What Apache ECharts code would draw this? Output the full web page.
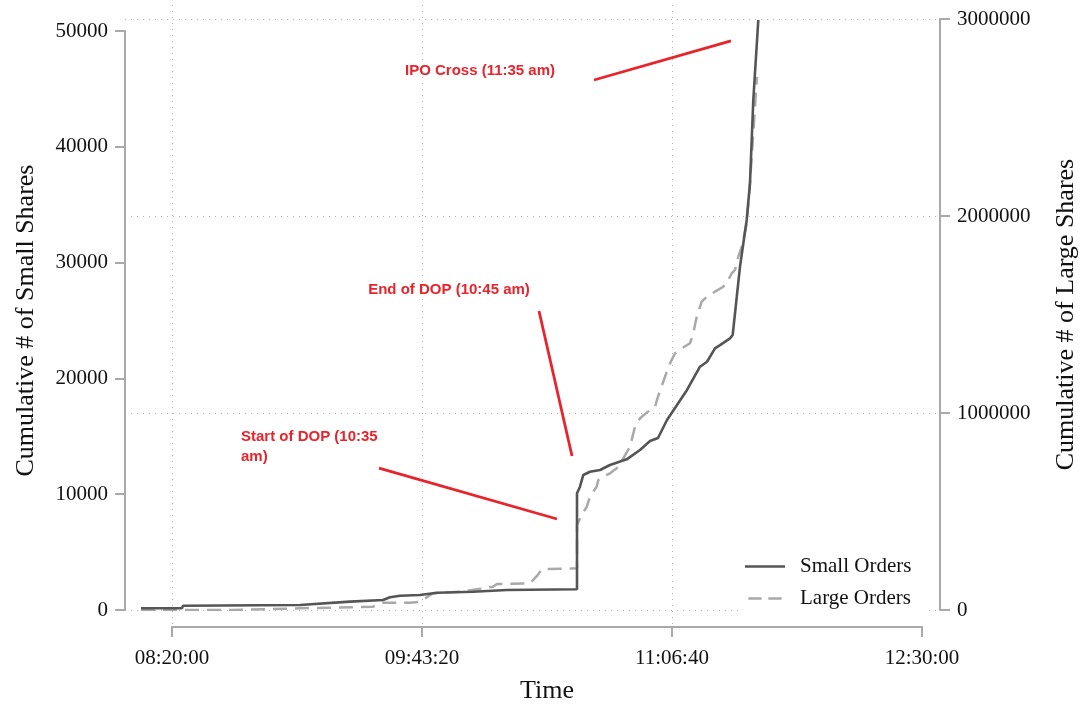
<!DOCTYPE html>
<html>
<head>
<meta charset="utf-8">
<title>Cumulative Small and Large Shares</title>
<script src="https://cdn.jsdelivr.net/npm/echarts@6/dist/echarts.min.js"></script>
<style>
  html, body { margin: 0; padding: 0; background: #fff; }
  #chart { width: 1082px; height: 705px; }
</style>
</head>
<body>
<div id="chart"></div>
<script>
// Time is in seconds after midnight.
const smallTime = [29380, 30200, 30220, 32560, 33560, 34220, 34360, 34560, 34960, 35300, 36020, 36700,
  38100, 38100, 38160, 38226, 38360, 38560, 38760, 39094, 39360, 39560, 39720, 39900, 40100, 40300,
  40560, 40700, 40860, 40960, 41160, 41214, 41360, 41494, 41560, 41626, 41726];
const smallShares = [150, 150, 370, 430, 720, 860, 1100, 1235, 1300, 1490, 1580, 1730,
  1790, 10080, 10650, 11660, 11940, 12090, 12520, 13010, 13820, 14590, 14850, 16410, 17700, 19000,
  21010, 21440, 22600, 22880, 23460, 23750, 29650, 33680, 36870, 44040, 50950];

const largeTime = [29380, 31220, 32560, 34020, 34220, 34760, 34960, 35220, 35760, 36100, 36420, 36500,
  37160, 37300, 37400, 38100, 38100, 38194, 38294, 38360, 38494, 38526, 38626, 38760, 38894, 39026,
  39160, 39260, 39360, 39560, 39660, 39720, 39860, 39960, 40060, 40194, 40360, 40426, 40494, 40594,
  40694, 40860, 41026, 41126, 41194, 41260, 41326, 41394, 41494, 41560, 41626, 41694, 41700];
const largeShares = [0, 0, 8600, 16700, 37000, 37000, 42000, 85000, 93000, 105000, 118000, 132000,
  135000, 173000, 207000, 212000, 432000, 482000, 524000, 575000, 626000, 660000, 677000, 694000, 719000, 770000,
  829000, 930000, 973000, 1015000, 1032000, 1083000, 1184000, 1252000, 1303000, 1328000, 1354000, 1405000, 1489000, 1565000,
  1590000, 1616000, 1641000, 1675000, 1709000, 1726000, 1793000, 1844000, 1963000, 2168000, 2421000, 2690000, 2706000];

// Time axis ticks and their labels
const xTickValues = [30000, 35000, 40000, 45000];
const xTickLabels = ['08:20:00', '09:43:20', '11:06:40', '12:30:00'];

// Left (small shares) and right (large shares) axis ticks
const leftTicks = [0, 10000, 20000, 30000, 40000, 50000];
const rightTicks = [0, 1000000, 2000000, 3000000];

// Event notes: text, anchor (time, small shares), and pointer segment in the same units
const noteTexts = ['IPO Cross (11:35 am)', 'End of DOP (10:45 am)', 'Start of DOP (10:35\nam)'];
const noteAnchors = [[36160, 46550], [35540, 27630], [31380, 14080]];
const noteSegments = [
  [[38440, 45770], [41180, 49140]],
  [[37340, 25820], [38000, 13300]],
  [[34140, 12260], [37700, 7860]]
];

const SERIF = '"Liberation Serif", "Times New Roman", serif';
const SANS = '"Liberation Sans", Arial, sans-serif';
const AXIS_GRAY = '#a9a9a9';
const GRID_DOT = { type: [1, 5], color: '#b4b4b4', width: 1 };
const RED = '#e8232b';

const zip = (a, b) => a.map((v, i) => [v, b[i]]);
const plain = v => String(v);

const chart = echarts.init(document.getElementById('chart'), null, { renderer: 'canvas' });

chart.setOption({
  animation: false,
  backgroundColor: '#fff',
  grid: [
    { left: 125, right: 142, top: 19, bottom: 95, outerBoundsMode: 'none' },   // plot area
    { left: 125, right: 142, top: 31, bottom: 95, outerBoundsMode: 'none' },   // left axis scale
    { left: 172, right: 160, top: 5, bottom: 78, outerBoundsMode: 'none' }     // time axis
  ],
  xAxis: [
    { gridIndex: 0, type: 'value', min: 29060, max: 45360, show: false },
    { gridIndex: 1, type: 'value', min: 0, max: 1, show: false },
    {
      gridIndex: 2, type: 'value',
      min: xTickValues[0], max: xTickValues[xTickValues.length - 1], interval: xTickValues[1] - xTickValues[0],
      axisLine: { show: true, onZero: false, lineStyle: { color: AXIS_GRAY, width: 2 } },
      axisTick: { show: true, length: 10, lineStyle: { color: AXIS_GRAY, width: 2 } },
      axisLabel: {
        margin: 21, fontSize: 21, fontFamily: SERIF, color: '#111',
        formatter: v => { const i = xTickValues.indexOf(v); return i >= 0 ? xTickLabels[i] : ''; }
      },
      splitLine: { show: true, showMaxLine: false, lineStyle: GRID_DOT },
      name: 'Time', nameLocation: 'middle', nameGap: 51,
      nameTextStyle: { fontSize: 26, fontFamily: SERIF, color: '#111' }
    }
  ],
  yAxis: [
    { gridIndex: 0, type: 'value', min: 0, max: 50000 * 591 / 579, show: false },
    {
      gridIndex: 0, type: 'value', position: 'right',
      min: rightTicks[0], max: rightTicks[rightTicks.length - 1], interval: rightTicks[1] - rightTicks[0],
      axisLine: { show: true, onZero: false, lineStyle: { color: AXIS_GRAY, width: 2 } },
      axisTick: { show: true, length: 10, lineStyle: { color: AXIS_GRAY, width: 2 } },
      axisLabel: { margin: 17, fontSize: 21, fontFamily: SERIF, color: '#111', formatter: plain },
      splitLine: { show: true, lineStyle: GRID_DOT },
      name: 'Cumulative # of Large Shares', nameLocation: 'middle', nameGap: 113, nameRotate: 90,
      nameTextStyle: { fontSize: 26, fontFamily: SERIF, color: '#111' }
    },
    {
      gridIndex: 1, type: 'value', position: 'left',
      min: leftTicks[0], max: leftTicks[leftTicks.length - 1], interval: leftTicks[1] - leftTicks[0],
      axisLine: { show: true, onZero: false, lineStyle: { color: AXIS_GRAY, width: 2 } },
      axisTick: { show: true, length: 10, lineStyle: { color: AXIS_GRAY, width: 2 } },
      axisLabel: { margin: 17, fontSize: 21, fontFamily: SERIF, color: '#111', formatter: plain },
      splitLine: { show: false },
      name: 'Cumulative # of Small Shares', nameLocation: 'middle', nameGap: 86, nameRotate: 90,
      nameTextStyle: { fontSize: 26, fontFamily: SERIF, color: '#111' }
    },
    { gridIndex: 2, type: 'value', show: false }
  ],
  legend: {
    orient: 'vertical', left: 740, top: 551,
    data: [
      { name: 'Small Orders', icon: 'rect' },
      { name: 'Large Orders', icon: 'path://M0,0H16V3H0Z M24,0H40V3H24Z' }
    ],
    itemWidth: 40, itemHeight: 2.5, itemGap: 11,
    padding: [5, 15, 5, 5],
    backgroundColor: '#fff',
    textStyle: { fontSize: 21, fontFamily: SERIF, color: '#111', padding: [0, 0, 0, 10] }
  },
  series: [
    {
      name: 'Large Orders', type: 'line', xAxisIndex: 0, yAxisIndex: 1,
      data: zip(largeTime, largeShares),
      symbol: 'none', color: '#a9a9a9',
      lineStyle: { color: '#a9a9a9', width: 2.5, type: [14, 8] },
      z: 2
    },
    {
      name: 'Small Orders', type: 'line', xAxisIndex: 0, yAxisIndex: 0,
      data: zip(smallTime, smallShares),
      symbol: 'none', color: '#555555',
      lineStyle: { color: '#555555', width: 2.6 },
      z: 3,
      markLine: {
        silent: true, symbol: ['none', 'none'], animation: false,
        label: { show: false },
        lineStyle: { color: RED, width: 2.8, type: 'solid' },
        data: noteSegments.map(s => [{ coord: s[0] }, { coord: s[1] }])
      }
    },
    {
      name: 'notes', type: 'scatter', xAxisIndex: 0, yAxisIndex: 0,
      symbolSize: 0, silent: true, z: 5,
      itemStyle: { opacity: 1 },
      data: noteAnchors.map((a, i) => ({
        value: a,
        label: i === 2
          ? { show: true, position: 'right', distance: 0, align: 'left', verticalAlign: 'middle' }
          : { show: true, position: 'inside', align: 'center', verticalAlign: 'middle' }
      })),
      label: {
        show: true, color: RED, fontSize: 15, fontWeight: 'bold', fontFamily: SANS, lineHeight: 20,
        formatter: p => noteTexts[p.dataIndex]
      }
    }
  ]
});
</script>
</body>
</html>
